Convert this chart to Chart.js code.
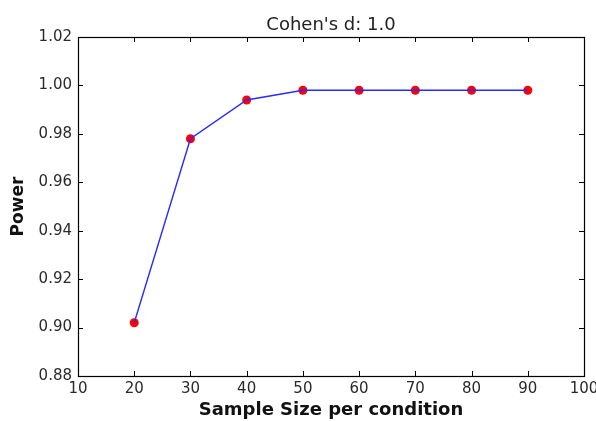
<!DOCTYPE html>
<html>
<head>
<meta charset="utf-8">
<script src="https://cdn.jsdelivr.net/npm/chart.js@4/dist/chart.umd.min.js"></script>
<style>
html,body{margin:0;padding:0;background:#fff;}
#wrap{width:596px;height:421px;}
</style>
</head>
<body>
<div id="wrap"><canvas id="c" width="596" height="421"></canvas></div>
<script>
const sampleSizes = [20, 30, 40, 50, 60, 70, 80, 90];
const powerValues = [0.902, 0.978, 0.994, 0.998, 0.998, 0.998, 0.998, 0.998];
const xTicks = [10, 20, 30, 40, 50, 60, 70, 80, 90, 100];
const yTicks = [0.88, 0.90, 0.92, 0.94, 0.96, 0.98, 1.00, 1.02];
const titleText = "Cohen's d: 1.0";
const xLabel = "Sample Size per condition";
const yLabel = "Power";

const pts = sampleSizes.map((x, i) => ({x: x, y: powerValues[i]}));

const frameTicks = {
  id: 'frameTicks',
  afterDatasetsDraw(chart) {
    const {ctx, chartArea: a, scales} = chart;
    ctx.save();
    ctx.strokeStyle = '#000';
    ctx.lineWidth = 1;
    ctx.beginPath();
    const tl = 5;
    scales.x.ticks.forEach(t => {
      const px = Math.round(scales.x.getPixelForValue(t.value)) + 0.5;
      ctx.moveTo(px, a.bottom); ctx.lineTo(px, a.bottom - tl);
      ctx.moveTo(px, a.top); ctx.lineTo(px, a.top + tl);
    });
    scales.y.ticks.forEach(t => {
      const py = Math.round(scales.y.getPixelForValue(t.value)) + 0.5;
      ctx.moveTo(a.left, py); ctx.lineTo(a.left + tl, py);
      ctx.moveTo(a.right, py); ctx.lineTo(a.right - tl, py);
    });
    ctx.stroke();
    ctx.lineWidth = 1.2;
    ctx.strokeRect(Math.round(a.left) + 0.5, Math.round(a.top) + 0.5, Math.round(a.right - a.left), Math.round(a.bottom - a.top));
    // title centred over the plot area
    ctx.fillStyle = '#222';
    ctx.font = 'normal 18px "DejaVu Sans"';
    ctx.textAlign = 'center';
    ctx.textBaseline = 'alphabetic';
    ctx.fillText(titleText, (a.left + a.right) / 2, 30);
    ctx.restore();
  }
};

new Chart(document.getElementById('c'), {
  type: 'scatter',
  data: {
    datasets: [
      {
        data: pts,
        showLine: true,
        borderColor: '#2a2aff',
        borderWidth: 1.4,
        pointRadius: 0,
        fill: false,
        tension: 0
      },
      {
        data: pts,
        showLine: false,
        pointRadius: 4.5,
        pointBackgroundColor: '#ff0000',
        pointBorderColor: '#ff0000',
        pointBorderWidth: 0
      }
    ]
  },
  options: {
    responsive: false,
    animation: false,
    devicePixelRatio: 1,
    layout: {padding: {left: 0, right: 12, top: 37, bottom: 0}},
    plugins: {
      legend: {display: false},
      tooltip: {enabled: false},
      title: {display: false}
    },
    scales: {
      x: {
        type: 'linear',
        min: 10, max: 100,
        afterBuildTicks(s) { s.ticks = xTicks.map(v => ({value: v})); },
        afterFit(s) { s.height = 45; s.paddingLeft = 0; s.paddingRight = 0; },
        grid: {display: false, drawTicks: false},
        border: {display: false},
        ticks: {
          color: '#2a2a2a',
          padding: 4,
          maxRotation: 0,
          font: {family: 'DejaVu Sans', size: 15},
          callback: v => String(v)
        },
        title: {
          display: true,
          text: xLabel,
          color: '#111',
          font: {family: 'DejaVu Sans', size: 18, weight: 'bold'},
          padding: {top: 3, bottom: 0}
        }
      },
      y: {
        type: 'linear',
        min: 0.88, max: 1.02,
        afterBuildTicks(s) { s.ticks = yTicks.map(v => ({value: v})); },
        afterFit(s) { s.width = 78; s.paddingTop = 0; s.paddingBottom = 0; },
        grid: {display: false, drawTicks: false},
        border: {display: false},
        ticks: {
          color: '#2a2a2a',
          padding: 6,
          font: {family: 'DejaVu Sans', size: 15},
          callback: v => Number(v).toFixed(2)
        },
        title: {
          display: true,
          text: yLabel,
          color: '#111',
          font: {family: 'DejaVu Sans', size: 17, weight: 'bold'},
          padding: {top: 8, bottom: 0}
        }
      }
    }
  },
  plugins: [frameTicks]
});
</script>
</body>
</html>
